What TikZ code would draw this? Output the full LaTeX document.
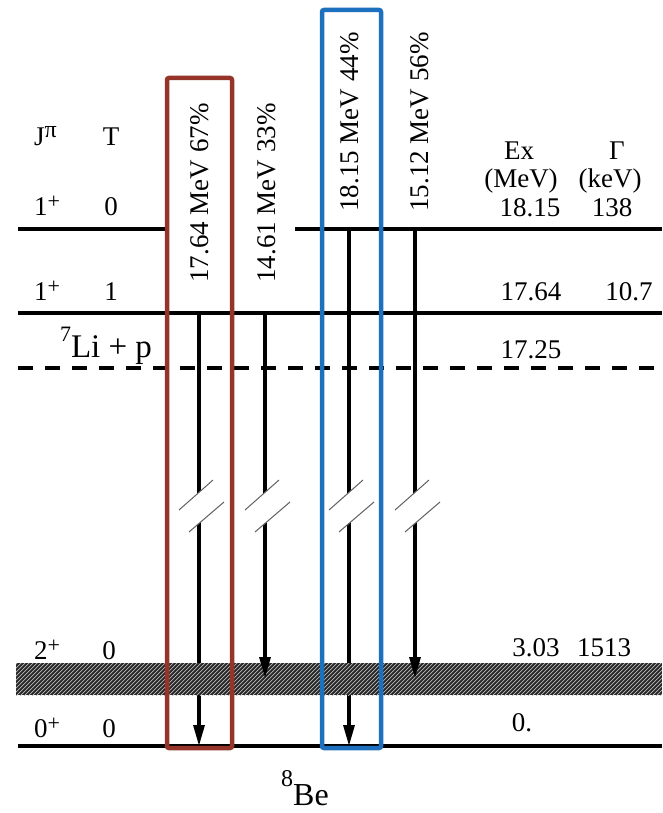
\documentclass[tikz,border=0pt]{standalone}
\usepackage{fontspec}
\setmainfont{Liberation Serif}
\usetikzlibrary{arrows.meta}
\definecolor{boxred}{RGB}{150,52,42}
\definecolor{boxblue}{RGB}{28,112,190}
% size, raise, text
\newcommand{\upsc}[3]{\raisebox{#2}{\fontsize{#1}{#1}\selectfont #3}}
\tikzset{
  lvl/.style={line width=4pt, black},
  trans/.style={line width=3.2pt, -{Triangle[length=21pt,width=11pt]}},
  lbl/.style={font=\fontsize{27}{30}\selectfont, inner sep=0pt, anchor=base},
  lblw/.style={lbl, anchor=base west},
  rotlbl/.style={font=\fontsize{27}{30}\selectfont, inner sep=0pt, rotate=90},
  biglbl/.style={font=\fontsize{33}{36}\selectfont, inner sep=0pt, anchor=base},
  brkline/.style={gray!75!black, line width=1pt},
  selbox/.style={line width=4.5pt, rounded corners=2pt}
}
\newcommand{\breakmark}[2]{%
  \fill[white] (#1-20,#2+3) -- (#1+14,#2-27) -- (#1+25,#2-5) -- (#1-10,#2+25) -- cycle;
  \draw[brkline] (#1-20,#2+3) -- (#1+14,#2-27);
  \draw[brkline] (#1-10,#2+25) -- (#1+25,#2-5);
}
\begin{document}
\begin{tikzpicture}[x=1pt,y=-1pt]
\useasboundingbox (0,0) rectangle (662,813);
% level end points
\coordinate (L0a) at (18,229);  \coordinate (L0b) at (167,229);
\coordinate (L0c) at (295,229); \coordinate (L0d) at (662,229);
\coordinate (L1a) at (18,313);  \coordinate (L1b) at (662,313);
\coordinate (Lpa) at (18,368);  \coordinate (Lpb) at (662,368);
\coordinate (G0a) at (18,746);  \coordinate (G0b) at (662,746);
% transition end points
\coordinate (t1s) at (199,313); \coordinate (t1e) at (199,746);
\coordinate (t2s) at (265,313); \coordinate (t2e) at (265,678);
\coordinate (t3s) at (349,229); \coordinate (t3e) at (349,746);
\coordinate (t4s) at (415,229); \coordinate (t4e) at (415,678);
% levels
\draw[lvl] (L0a) -- (L0b);
\draw[lvl] (L0c) -- (L0d);
\draw[lvl, line width=3.5pt] (L1a) -- (L1b);
\draw[lvl, dash pattern=on 15pt off 12pt] (Lpa) -- (Lpb);
\draw[lvl, line width=4.5pt] (G0a) -- (G0b);
% long transitions (under the band)
\draw[trans] (t1s) -- (t1e);
\draw[trans] (t3s) -- (t3e);
% hatched 2+ band
\fill[black!85] (16,663) rectangle (662,695);
\begin{scope}
  \clip (16,663) rectangle (662,695);
  \foreach \i in {-40,-36,...,662} {
    \draw[gray!55, line width=0.7pt] (\i,700) -- (\i+40,660);
  }
\end{scope}
% short transitions
\draw[trans] (t2s) -- (t2e);
\draw[trans] (t4s) -- (t4e);
% axis breaks
\breakmark{199}{507}
\breakmark{265}{507}
\breakmark{349}{507}
\breakmark{415}{507}
% highlight boxes
\draw[selbox, boxred] (167,78) rectangle (232,748);
\draw[selbox, boxblue] (322,10) rectangle (381,748);
% transition labels
\node[rotlbl] (g1) at (200,193) {17.64 MeV 67\%};
\node[rotlbl] (g2) at (267,193) {14.61 MeV 33\%};
\node[rotlbl] (g3) at (350,122) {18.15 MeV 44\%};
\node[rotlbl] (g4) at (420,122) {15.12 MeV 56\%};
% left column labels
\node[lblw] (hJ) at (34,146) {J\upsc{24}{8pt}{π}};
\node[lbl] (hT) at (111,146) {T};
\node[lblw] (j1) at (34,215) {1\upsc{22}{7pt}{+}};
\node[lbl] (t1) at (111,215) {0};
\node[lblw] (j2) at (34,300) {1\upsc{22}{7pt}{+}};
\node[lbl] (t2) at (111,300) {1};
\node[biglbl] (lip) at (106,357) {\upsc{22}{16pt}{7}Li + p};
\node[lblw] (j3) at (34,659) {2\upsc{22}{7pt}{+}};
\node[lbl] (t3) at (109,659) {0};
\node[lblw] (j4) at (34,737) {0\upsc{22}{7pt}{+}};
\node[lbl] (t4) at (109,737) {0};
% right column labels
\node[lbl] (hEx) at (519,160) {Ex};
\node[lbl] (hEu) at (521,188) {(MeV)};
\node[lbl] (hG) at (617,160) {Γ};
\node[lbl] (hGu) at (610,188) {(keV)};
\node[lbl] (e1) at (530,216) {18.15};
\node[lbl] (w1) at (612,216) {138};
\node[lbl] (e2) at (531,300) {17.64};
\node[lbl] (w2) at (629,300) {10.7};
\node[lbl] (e3) at (531,358) {17.25};
\node[lbl] (e4) at (536,656) {3.03};
\node[lbl] (w4) at (604,656) {1513};
\node[lbl] (e5) at (522,731) {0.};
% nucleus
\node[biglbl, font=\fontsize{32}{36}\selectfont] (be) at (305,805) {\upsc{24}{19pt}{8}Be};
\end{tikzpicture}
\end{document}
